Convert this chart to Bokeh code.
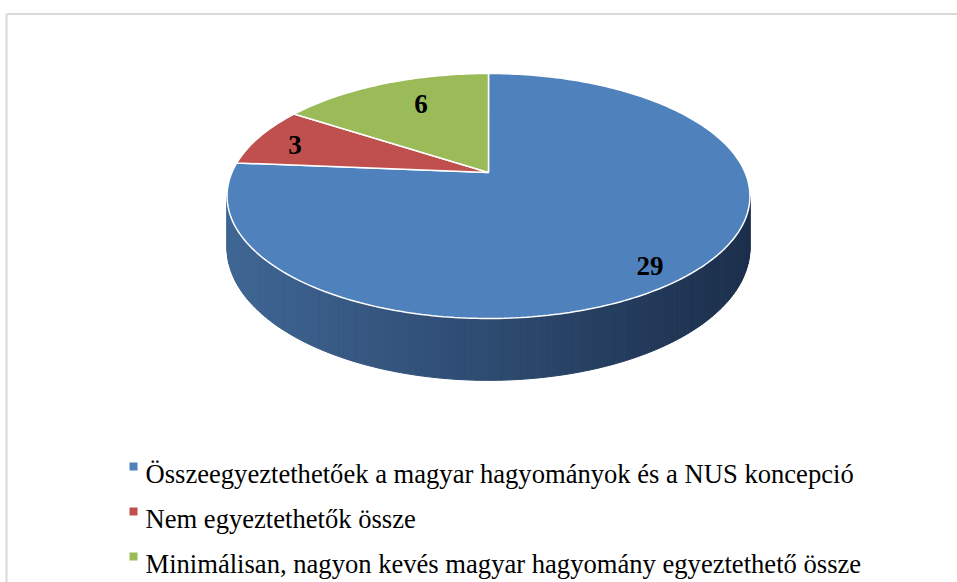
import numpy as np
from bokeh.plotting import figure
from bokeh.models import Range1d
from bokeh.embed import file_html
from bokeh.resources import INLINE
from bokeh.core.properties import value

# ---- data ----
categories = [
    "Összeegyeztethetőek a magyar hagyományok és a NUS koncepció",
    "Nem egyeztethetők össze",
    "Minimálisan, nagyon kevés magyar hagyomány egyeztethető össze",
]
counts = [29, 3, 6]
colors = ["#4F81BD", "#C0504D", "#9BBB59"]

# ---- layout (pixels) ----
W, H = 957, 582
OFF = 0
CXP = 488.0          # pie centre x
A = 172.0            # vertex y
C = -0.1918          # perspective factor
B = 85.0
D = 256.6
DEPTH = 50.0

def proj(theta, r=1.0, drop=0.0):
    u = r * np.sin(theta)
    v = -r * np.cos(theta)
    den = 1 + C * v
    x = CXP + D * u / den
    y = (A + B * v) / den + drop / den
    return x - OFF, y - OFF

p = figure(width=W, height=H, output_backend="svg", toolbar_location=None,
           x_range=Range1d(0, W), y_range=Range1d(H, 0), min_border=0,
           background_fill_color="white", border_fill_color="white")
p.outline_line_color = None
p.axis.visible = False
p.grid.visible = False

# chart border (light grey)
p.line([6, 6], [13.5, H], line_color="#d9d9d9", line_width=2)
p.line([6, W], [13.5, 13.5], line_color="#d9d9d9", line_width=2)

total = float(sum(counts))
angles = np.cumsum([0] + counts) / total * 2 * np.pi

# ---- side wall (only the front, blue slice visible) ----
t1 = np.arccos(C)
t2 = 2 * np.pi - t1
N = 140
ts = np.linspace(t1, t2, N + 1)
left_c = np.array([63, 102, 148])
right_c = np.array([28, 47, 76])
xs_all = [proj(t)[0] for t in ts]
xmin, xmax = min(xs_all), max(xs_all)
sx, sy, sc = [], [], []
for i in range(N):
    a0, a1 = ts[i], ts[i + 1]
    x0, y0 = proj(a0)
    x1, y1 = proj(a1)
    x1b, y1b = proj(a1, drop=DEPTH)
    x0b, y0b = proj(a0, drop=DEPTH)
    sx.append([x0, x1, x1b, x0b])
    sy.append([y0, y1, y1b, y0b])
    t = ((x0 + x1) / 2 - xmin) / (xmax - xmin)
    col = left_c * (1 - t) + right_c * t
    sc.append("#%02x%02x%02x" % tuple(int(round(c)) for c in col))
p.patches(sx, sy, fill_color=sc, line_color=sc, line_width=1)

# ---- top face slices ----
vx, vy = proj(0.0, r=0.0)
for i in range(len(counts)):
    a0, a1 = angles[i], angles[i + 1]
    n = max(int((a1 - a0) / (2 * np.pi) * 360), 4)
    th = np.linspace(a0, a1, n)
    px = [vx] + [proj(t)[0] for t in th]
    py = [vy] + [proj(t)[1] for t in th]
    p.patch(px, py, fill_color=colors[i], line_color="white", line_width=1.5)

# ---- data labels ----
label_pos = [(649.5, 265), (294.5, 144.5), (420.5, 103.5)]
p.text(x=[lp[0] - OFF for lp in label_pos], y=[lp[1] - OFF for lp in label_pos],
       text=[str(c) for c in counts], text_font=value("Liberation Serif"),
       text_font_style="bold", text_font_size="27px", text_color="black",
       text_align="center", text_baseline="middle")

# ---- legend ----
leg_y = [466, 511, 556]
p.scatter(x=[133 - OFF] * 3, y=[y - OFF for y in leg_y], marker="square", size=8,
          fill_color=colors, line_color=None)
p.text(x=[145 - OFF] * 3, y=[y + 7 - OFF for y in leg_y], text=categories,
       text_font=value("Liberation Serif"), text_font_size="26.6px", text_color="black",
       text_align="left", text_baseline="alphabetic")

open("out.html", "w").write(file_html(p, INLINE))
